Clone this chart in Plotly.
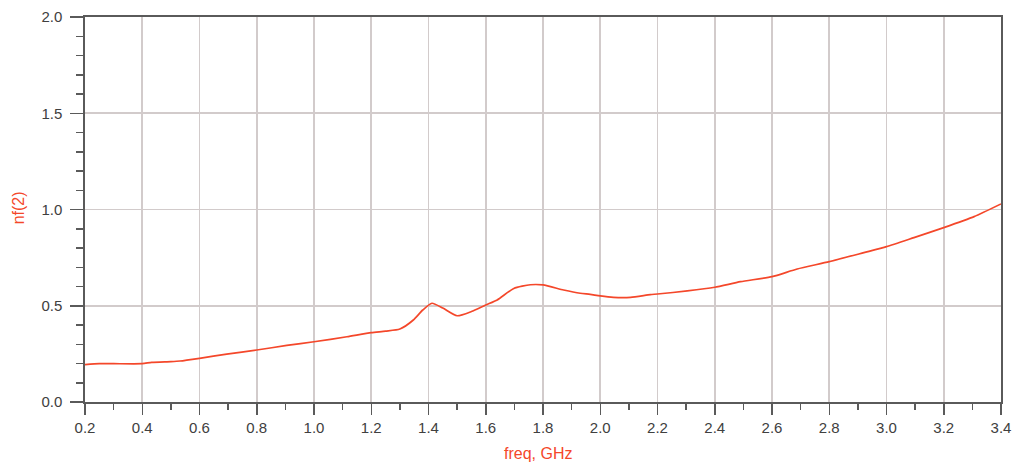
import plotly.graph_objects as go

freq = [0.2, 0.25, 0.3, 0.4, 0.433, 0.5, 0.532, 0.6, 0.695, 0.8, 0.905, 1.0, 1.115, 1.2,
        1.25, 1.3, 1.347, 1.38, 1.412, 1.45, 1.5, 1.55, 1.6, 1.64, 1.698, 1.756, 1.8,
        1.872, 1.93, 1.965, 2.0, 2.046, 2.106, 2.175, 2.2, 2.304, 2.4, 2.49, 2.6, 2.688,
        2.8, 2.921, 3.0, 3.096, 3.2, 3.306, 3.4]
nf = [0.194, 0.199, 0.199, 0.199, 0.206, 0.210, 0.213, 0.227, 0.249, 0.270, 0.294, 0.313,
      0.339, 0.360, 0.368, 0.379, 0.426, 0.478, 0.513, 0.488, 0.448, 0.470, 0.504, 0.530,
      0.590, 0.609, 0.608, 0.582, 0.565, 0.559, 0.551, 0.544, 0.544, 0.558, 0.561, 0.577,
      0.596, 0.625, 0.651, 0.691, 0.729, 0.776, 0.807, 0.854, 0.906, 0.963, 1.029]

x_ticks = [0.2, 0.4, 0.6, 0.8, 1.0, 1.2, 1.4, 1.6, 1.8, 2.0, 2.2, 2.4, 2.6, 2.8, 3.0, 3.2, 3.4]
y_ticks = [0.0, 0.5, 1.0, 1.5, 2.0]
x_title = "freq, GHz"
y_title = "nf(2)"

RED = "#f4472a"
AXIS = "#5a5a5a"
GRID = "#d2cbcb"
FONT = "Liberation Sans, Arial, sans-serif"
TICKFONT = dict(family=FONT, size=15, color="#404040")

fig = go.Figure()
fig.add_trace(go.Scatter(x=freq, y=nf, mode="lines",
                         line=dict(color=RED, width=1.7, shape="spline", smoothing=0.6),
                         showlegend=False, hoverinfo="skip"))

fig.update_layout(
    width=1012, height=466,
    margin=dict(l=85, r=11, t=17, b=64, autoexpand=False),
    paper_bgcolor="white", plot_bgcolor="white",
    font=TICKFONT,
    annotations=[
        dict(text=x_title, xref="paper", yref="paper", x=0.4945, y=0,
             xanchor="center", yanchor="middle", yshift=-51, showarrow=False,
             font=dict(family=FONT, size=16, color=RED)),
        dict(text=y_title, xref="paper", yref="paper", x=0, y=0.503,
             xanchor="center", yanchor="middle", xshift=-67, textangle=-90,
             showarrow=False, font=dict(family=FONT, size=16, color=RED)),
    ],
)
fig.update_xaxes(
    range=[0.2, 3.4], tickvals=x_ticks, ticktext=[f"{v:.1f}" for v in x_ticks],
    showgrid=True, gridcolor=GRID, gridwidth=1.6,
    showline=True, linecolor=AXIS, linewidth=1.6, mirror=True,
    ticks="outside", ticklen=11, tickwidth=1.5, tickcolor=AXIS,
    minor=dict(dtick=0.1, tick0=0.2, ticks="outside", ticklen=6, tickwidth=1.5,
               tickcolor=AXIS, showgrid=False),
    tickfont=TICKFONT, zeroline=False, automargin=False,
)
fig.update_yaxes(
    range=[0, 2.0], tickvals=y_ticks, ticktext=[f"{v:.1f}" for v in y_ticks],
    showgrid=True, gridcolor=GRID, gridwidth=1.6,
    showline=True, linecolor=AXIS, linewidth=1.6, mirror=True,
    ticks="outside", ticklen=13, tickwidth=1.5, tickcolor=AXIS,
    minor=dict(dtick=0.1, tick0=0, ticks="outside", ticklen=7, tickwidth=1.5,
               tickcolor=AXIS, showgrid=False),
    tickfont=TICKFONT, zeroline=False, automargin=False, ticklabelstandoff=5,
)

# remove the browser's default 8px body margin so the figure fills the window
fig.write_html("out.html",
               config={"displayModeBar": False, "staticPlot": True},
               post_script="document.body.style.margin='0';document.body.style.overflow='hidden';")
